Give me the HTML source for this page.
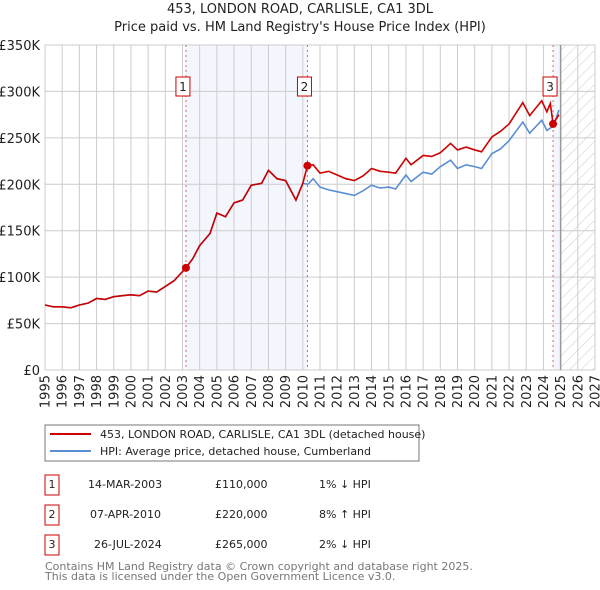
<!DOCTYPE html>
<html><head><meta charset="utf-8"><style>
body{margin:0;background:#fff;font-family:"DejaVu Sans","Liberation Sans",sans-serif;}
svg{display:block}
</style></head><body>
<svg id="c" width="600" height="590" xmlns="http://www.w3.org/2000/svg" font-family="DejaVu Sans, Liberation Sans, sans-serif">
<defs><pattern id="hatch" width="8" height="8" patternUnits="userSpaceOnUse" patternTransform="rotate(45)"><line x1="0" y1="0" x2="0" y2="8" stroke="#ccc" stroke-width="1"/></pattern></defs>
<text x="300" y="13" text-anchor="middle" font-size="13" fill="#222">453, LONDON ROAD, CARLISLE, CA1 3DL</text>
<text x="300" y="31" text-anchor="middle" font-size="13" fill="#222">Price paid vs. HM Land Registry's House Price Index (HPI)</text>
<g id="grid"></g><g id="marks"></g>
<rect x="45" y="425" width="374" height="36" fill="none" stroke="#777"/>
<line x1="50" y1="434" x2="91" y2="434" stroke="#cc0000" stroke-width="2"/>
<text x="100" y="438" font-size="11" fill="#222">453, LONDON ROAD, CARLISLE, CA1 3DL (detached house)</text>
<line x1="50" y1="451" x2="91" y2="451" stroke="#5b8fd4" stroke-width="2"/>
<text x="100" y="455" font-size="11" fill="#222">HPI: Average price, detached house, Cumberland</text>
<g font-size="11" fill="#222">
<rect x="45" y="475" width="14" height="20" fill="none" stroke="#cc0000"/><text x="52" y="488" text-anchor="middle">1</text>
<text x="88" y="488">14-MAR-2003</text><text x="215" y="488">£110,000</text><text x="319" y="488">1% ↓ HPI</text>
<rect x="45" y="505" width="14" height="20" fill="none" stroke="#cc0000"/><text x="52" y="518" text-anchor="middle">2</text>
<text x="90" y="518">07-APR-2010</text><text x="215" y="518">£220,000</text><text x="319" y="518">8% ↑ HPI</text>
<rect x="45" y="535" width="14" height="20" fill="none" stroke="#cc0000"/><text x="52" y="548" text-anchor="middle">3</text>
<text x="94" y="548">26-JUL-2024</text><text x="215" y="548">£265,000</text><text x="319" y="548">2% ↓ HPI</text>
</g>
<text x="45" y="570" font-size="11" fill="#777">Contains HM Land Registry data © Crown copyright and database right 2025.</text>
<text x="45" y="580" font-size="11" fill="#777">This data is licensed under the Open Government Licence v3.0.</text>
</svg>
<script>
const yTicks=[0,50,100,150,200,250,300,350];
const xTicks=[1995,1996,1997,1998,1999,2000,2001,2002,2003,2004,2005,2006,2007,2008,2009,2010,2011,2012,2013,2014,2015,2016,2017,2018,2019,2020,2021,2022,2023,2024,2025,2026,2027];
const hpiDates=[1995,1995.5,1996,1996.5,1997,1997.5,1998,1998.5,1999,1999.5,2000,2000.5,2001,2001.5,2002,2002.5,2003.2,2003.6,2004,2004.6,2005,2005.5,2006,2006.5,2007,2007.6,2008,2008.5,2009,2009.6,2010,2010.3,2010.6,2011,2011.5,2012,2012.5,2013,2013.5,2014,2014.5,2015,2015.4,2016,2016.3,2017,2017.5,2018,2018.6,2019,2019.5,2020,2020.4,2021,2021.5,2022,2022.8,2023.2,2023.9,2024.2,2024.6,2024.9];
const hpiValues=[70,68,68,67,70,72,77,76,79,80,81,80,85,84,90,96,110,120,134,147,169,165,180,183,199,201,215,206,204,183,201,200,206,197,194,192,190,188,193,199,196,197,195,210,203,213,211,219,226,217,221,219,217,233,238,247,267,255,269,258,263,280];
const priceDates=[1995,1995.5,1996,1996.5,1997,1997.5,1998,1998.5,1999,1999.5,2000,2000.5,2001,2001.5,2002,2002.5,2003.2,2003.6,2004,2004.6,2005,2005.5,2006,2006.5,2007,2007.6,2008,2008.5,2009,2009.6,2010,2010.27,2010.6,2011,2011.5,2012,2012.5,2013,2013.5,2014,2014.5,2015,2015.4,2016,2016.3,2017,2017.5,2018,2018.6,2019,2019.5,2020,2020.4,2021,2021.5,2022,2022.8,2023.2,2023.9,2024.2,2024.4,2024.56,2024.9];
const priceValues=[70,68,68,67,70,72,77,76,79,80,81,80,85,84,90,96,110,120,134,147,169,165,180,183,199,201,215,206,204,183,201,220,221,212,214,210,206,204,209,217,214,213,212,228,221,231,230,234,244,237,240,237,235,251,257,265,288,274,290,278,287,265,275];
const saleDates=[2003.2,2010.27,2024.56];
const saleValues=[110,220,265];
const saleLabels=["1","2","3"];
const L=45,R=595,T=45,B=370;
const X=d=>L+(d-1995)*(R-L)/32;
const Y=v=>B-v*(B-T)/350;
const NS="http://www.w3.org/2000/svg";
function mk(tag,attrs,parent){const e=document.createElementNS(NS,tag);for(const k in attrs)e.setAttribute(k,attrs[k]);parent.appendChild(e);return e;}
const g=document.getElementById('grid'),m=document.getElementById('marks');
let e;
e=mk('rect',{x:X(saleDates[0]),y:T,width:X(saleDates[1])-X(saleDates[0]),height:B-T,fill:'#eef3fc',opacity:0.7},g);


e=mk('rect',{x:X(saleDates[2]),y:T,width:X(2025)-X(saleDates[2]),height:B-T,fill:'#eef3fc',opacity:0.7},g);


e=mk('rect',{x:X(2025),y:T,width:R-X(2025),height:B-T,fill:'url(#hatch)'},g);


yTicks.forEach(v=>{
 e=mk('line',{x1:L,x2:R,y1:Y(v),y2:Y(v),stroke:'#ccc'},g);
 
 
 e=mk('text',{x:L-5,y:Y(v)+5,'text-anchor':'end','font-size':13,fill:'#222'},g);
 e.textContent=v===0?'£0':'£'+v+'K';
 
 
});
xTicks.forEach(d=>{
 e=mk('line',{x1:X(d),x2:X(d),y1:T,y2:B,stroke:'#ccc'},g);
 
 
 e=mk('text',{x:X(d),y:0,'text-anchor':'end','font-size':13,fill:'#222',transform:`translate(${X(d)+4},${B+5}) rotate(-90) translate(${-X(d)},0)`},g);
 e.setAttribute('x',X(d));e.setAttribute('y',0);
 e.setAttribute('transform',`translate(${X(d)+4.5},${B+5}) rotate(-90)`);
 e.setAttribute('x',0);
 e.textContent=d;
 
 
});
e=mk('line',{x1:X(2025),x2:X(2025),y1:T,y2:B,stroke:'#999','stroke-width':1.5},g);


saleDates.forEach((d,i)=>{
 e=mk('line',{x1:X(d),x2:X(d),y1:T,y2:B,stroke:'#e06070','stroke-dasharray':'2,3'},g);
 
 
});
e=mk('polyline',{points:hpiDates.map((d,i)=>X(d)+','+Y(hpiValues[i])).join(' '),fill:'none',stroke:'#5b8fd4','stroke-width':1.6},m);


e=mk('polyline',{points:priceDates.map((d,i)=>X(d)+','+Y(priceValues[i])).join(' '),fill:'none',stroke:'#cc0000','stroke-width':1.6},m);


saleDates.forEach((d,i)=>{
 e=mk('circle',{cx:X(d),cy:Y(saleValues[i]),r:4,fill:'#cc0000'},m);
 
 
 const bx=X(d)-8;
 e=mk('rect',{x:bx-2,y:77,width:14,height:19,fill:'#fff',stroke:'#cc0000'},m);
 
 
 e=mk('text',{x:bx+5,y:91,'text-anchor':'middle','font-size':12,fill:'#222'},m);
 e.textContent=saleLabels[i];
 
 
});
</script>
</body></html>
